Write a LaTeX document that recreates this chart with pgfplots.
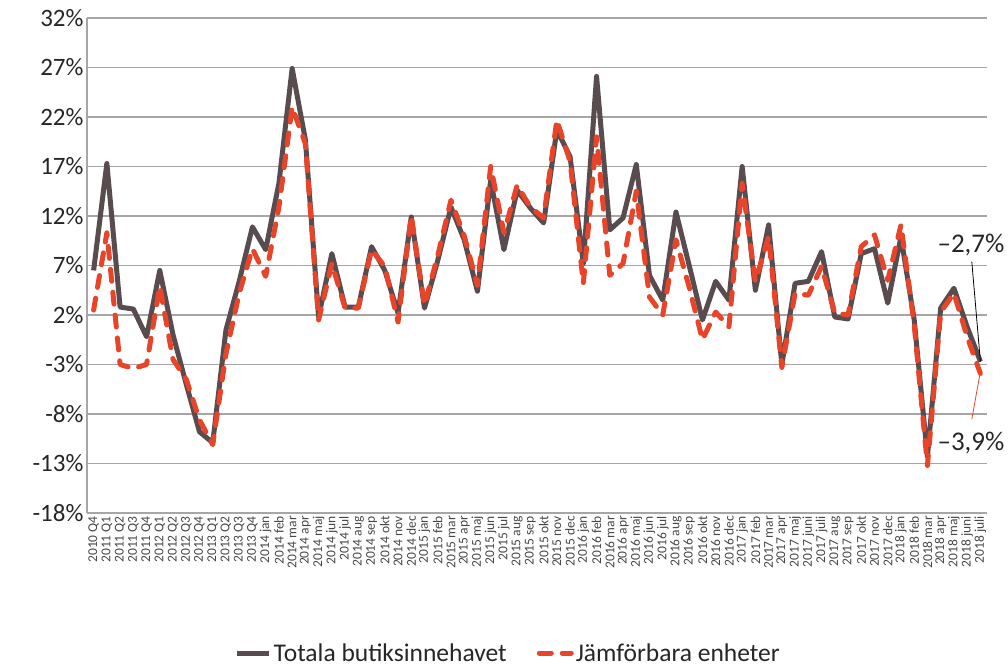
\documentclass[border=0pt]{standalone}
\usepackage{fontspec}
\setmainfont{Carlito}
\usepackage{pgfplots}
\pgfplotsset{compat=1.18}
\usepackage{pgfplotstable}
\definecolor{tot}{RGB}{89,76,78}
\definecolor{jmf}{RGB}{232,68,42}
\definecolor{gridc}{RGB}{166,166,166}
\definecolor{txt}{RGB}{38,38,38}

\pgfplotstableread{
x total jamf
0 6.5 2.5
1 17.3 10.3
2 2.8 -3.0
3 2.6 -3.4
4 -0.2 -3.0
5 6.5 4.9
6 0.0 -2.5
7 -5.0 -4.5
8 -9.8 -8.6
9 -10.9 -11.1
10 0.5 -1.9
11 5.4 4.2
12 10.9 8.7
13 8.6 5.9
14 15.3 12.9
15 26.9 23.0
16 19.7 19.3
17 1.8 1.5
18 8.2 7.2
19 2.8 2.7
20 2.8 2.7
21 8.9 8.6
22 6.5 6.9
23 2.2 1.3
24 11.9 12.0
25 2.7 3.0
26 7.5 8.0
27 12.9 13.6
28 9.6 10.0
29 4.4 5.0
30 15.6 17.0
31 8.6 10.3
32 14.6 15.1
33 12.8 12.9
34 11.3 11.8
35 20.7 21.7
36 18.0 17.5
37 7.2 5.2
38 26.1 20.0
39 10.6 6.0
40 11.8 7.2
41 17.2 14.5
42 6.0 3.8
43 3.5 2.0
44 12.4 9.6
45 7.0 4.8
46 1.5 -0.5
47 5.4 2.3
48 3.5 0.8
49 17.0 15.3
50 4.5 5.4
51 11.1 9.9
52 -3.0 -3.3
53 5.2 4.2
54 5.4 4.0
55 8.4 6.9
56 1.8 2.2
57 1.6 2.0
58 8.2 8.9
59 8.7 10.1
60 3.2 5.5
61 9.9 11.1
62 1.5 1.0
63 -12.3 -13.2
64 2.7 2.3
65 4.7 4.2
66 0.8 -0.2
67 -2.7 -3.9
}\data

\begin{document}
\begin{tikzpicture}[x=1pt,y=1pt]
\path (0,0) rectangle (1008,666);
\begin{axis}[
  at={(87pt,153pt)}, anchor=south west,
  scale only axis, width=900pt, height=495pt,
  xmin=-0.5, xmax=67.5, ymin=-18, ymax=32,
  axis line style={draw=none},
  clip=false,
  xtick={0,...,67},
  xticklabels={2010 Q4,2011 Q1,2011 Q2,2011 Q3,2011 Q4,2012 Q1,2012 Q2,2012 Q3,2012 Q4,2013 Q1,2013 Q2,2013 Q3,2013 Q4,
    2014 jan,2014 feb,2014 mar,2014 apr,2014 maj,2014 jun,2014 jul,2014 aug,2014 sep,2014 okt,2014 nov,2014 dec,
    2015 jan,2015 feb,2015 mar,2015 apr,2015 maj,2015 jun,2015 jul,2015 aug,2015 sep,2015 okt,2015 nov,2015 dec,
    2016 jan,2016 feb,2016 mar,2016 apr,2016 maj,2016 jun,2016 jul,2016 aug,2016 sep,2016 okt,2016 nov,2016 dec,
    2017 jan,2017 feb,2017 mar,2017 apr,2017 maj,2017 juni,2017 juli,2017 aug,2017 sep,2017 okt,2017 nov,2017 dec,
    2018 jan,2018 feb,2018 mar,2018 apr,2018 maj,2018 juni,2018 juli},
  xticklabel style={rotate=90, anchor=east, font=\fontsize{13.5}{14}\selectfont, text=txt!85, inner sep=3pt},
  ytick={-18,-13,...,32},
  yticklabels={-18\%,-13\%,-8\%,-3\%,2\%,7\%,12\%,17\%,22\%,27\%,32\%},
  yticklabel style={font=\fontsize{25}{30}\selectfont, text=txt},
  major tick length=0pt,
  ymajorgrids, grid style={gridc, line width=1.5pt},
  legend columns=2,
  legend style={at={(0.468,-0.283)}, anchor=center, draw=none, fill=none,
    font=\fontsize{25.5}{30}\selectfont, text=txt,
    /tikz/every even column/.append style={column sep=28pt}},
  legend image code/.code={\draw[#1] (0pt,0pt) -- (32pt,0pt);},
]
\draw[gridc, line width=1.5pt] (rel axis cs:0,0) -- (rel axis cs:0,1);
\addplot[tot, line width=5pt, line join=round, mark=none] table[x=x,y=total]{\data};
\addlegendentry{Totala butiksinnehavet}
\addplot[jmf, line width=5pt, dash pattern=on 12pt off 11pt, line cap=round, line join=round, mark=none] table[x=x,y=jamf]{\data};
\addlegendentry{Jämförbara enheter}
\draw[black, line width=0.8pt] (axis cs:66.35,7.4) -- (axis cs:67,-2.7);
\draw[jmf, line width=0.8pt] (axis cs:66.35,-8.54) -- (axis cs:67,-3.7);
\node[text=txt, font=\fontsize{27}{30}\selectfont] at (axis cs:66.29,9.07) {\textendash2,7\%};
\node[text=txt, font=\fontsize{27}{30}\selectfont] at (axis cs:66.29,-10.96) {\textendash3,9\%};
\end{axis}
\end{tikzpicture}
\end{document}
